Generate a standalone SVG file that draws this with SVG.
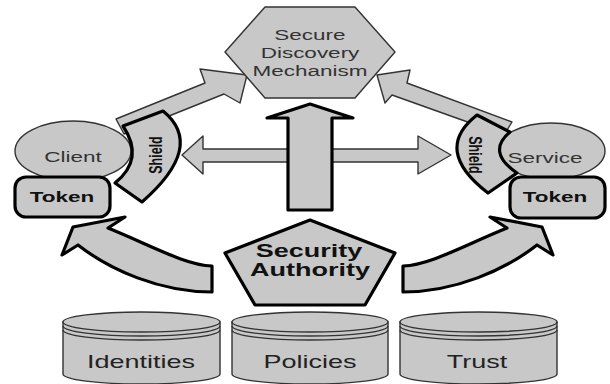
<svg xmlns="http://www.w3.org/2000/svg" width="610" height="384" viewBox="0 0 610 384">
  <style>
    .thin { fill: #c8c8c8; stroke: #333; stroke-width: 1.4; stroke-linejoin: round; }
    .thick { fill: #c8c8c8; stroke: #000; stroke-width: 3.2; stroke-linejoin: round; }
    .rim { fill: none; stroke: #333; stroke-width: 1.4; }
    text { font-family: "Liberation Sans", Arial, sans-serif; text-anchor: middle; }
    .lbl { font-size: 15px; fill: #333; }
    .bold { font-size: 15px; font-weight: bold; fill: #111; }
    .shield { font-size: 12.5px; font-weight: bold; fill: #111; }
    .auth { font-size: 18px; font-weight: bold; fill: #111; }
    .store { font-size: 18px; fill: #222; }
  </style>
  <defs>
    <!-- bent arrow from the authority toward the client token; mirrored for the service side -->
    <path id="bentArrow" d="M212,266 C185,265 150,245 108,228 L125,217 L73,227 L62,255 L78,245 C110,270 160,292 212,292 Z"/>
  </defs>

  <g id="connectors">
    <!-- client to discovery -->
    <path class="thin" d="M116,119 L205,83 L200,69 L247,75 L240,103 L224,94 L124,134 Z"/>
    <!-- service to discovery -->
    <path class="thin" d="M512,122 L407,83 L410,70 L377,75 L385,103 L392,95 L504,135 Z"/>
    <!-- client / service exchange -->
    <path class="thin" d="M203,149 L203,136 L182,155 L203,174 L203,162 L418,162 L418,174 L451,155 L418,136 L418,149 Z"/>
    <!-- authority publishes to discovery -->
    <path class="thick" d="M288,210 L288,118 L267,118 L310,104 L353,118 L332,118 L332,210 Z"/>
    <!-- authority issues tokens -->
    <use href="#bentArrow" class="thick"/>
    <use href="#bentArrow" class="thick" transform="translate(615,0) scale(-1,1)"/>
  </g>

  <g id="discovery">
    <polygon class="thin" points="265,7 355,7 395,52 355,98 265,98 225,52"/>
    <text class="lbl" transform="translate(310,40) scale(1.5,1)">Secure</text>
    <text class="lbl" transform="translate(310,58) scale(1.5,1)">Discovery</text>
    <text class="lbl" transform="translate(310,76) scale(1.5,1)">Mechanism</text>
  </g>

  <g id="client">
    <ellipse class="thin" cx="73" cy="151" rx="58" ry="30"/>
    <text class="lbl" transform="translate(73,162) scale(1.5,1)">Client</text>
  </g>

  <g id="client-shield">
    <path class="thick" d="M123,126 L163,111 Q206,146 142,202 L115,183 Q145,159 123,126 Z"/>
    <text class="shield" transform="translate(155,155) scale(1.5,1) rotate(-90)" y="4.5">Shield</text>
  </g>

  <g id="client-token">
    <rect class="thick" x="15" y="177" width="95" height="40" rx="11"/>
    <text class="bold" transform="translate(62,202) scale(1.5,1)">Token</text>
  </g>

  <g id="service">
    <ellipse class="thin" cx="551" cy="151" rx="54" ry="28"/>
    <text class="lbl" transform="translate(545,163) scale(1.5,1)">Service</text>
  </g>

  <g id="service-shield">
    <path class="thick" d="M510,132 L477,115 Q432,150 488,193 L517,173 Q486,152 510,132 Z"/>
    <text class="shield" transform="translate(476,155) scale(1.5,1) rotate(90)" y="4.5">Shield</text>
  </g>

  <g id="service-token">
    <rect class="thick" x="510" y="177" width="95" height="41" rx="11"/>
    <text class="bold" transform="translate(555,202) scale(1.5,1)">Token</text>
  </g>

  <g id="authority">
    <polygon class="thick" points="310,220 395,253 365,305 255,305 225,253"/>
    <text class="auth" transform="translate(309,257) scale(1.5,1)">Security</text>
    <text class="auth" transform="translate(310,276) scale(1.5,1)">Authority</text>
  </g>

  <g id="identities">
    <path class="thin" d="M63,322 L63,374 A78.5,10 0 0 0 220,374 L220,322 Z"/>
    <ellipse class="thin" cx="141.5" cy="322" rx="78.5" ry="10"/>
    <path class="rim" d="M63,326 A78.5,10 0 0 0 220,326 M63,330 A78.5,10 0 0 0 220,330"/>
    <text class="store" transform="translate(141,368) scale(1.5,1)">Identities</text>
  </g>

  <g id="policies">
    <path class="thin" d="M232,322 L232,374 A78,10 0 0 0 388,374 L388,322 Z"/>
    <ellipse class="thin" cx="310" cy="322" rx="78" ry="10"/>
    <path class="rim" d="M232,326 A78,10 0 0 0 388,326 M232,330 A78,10 0 0 0 388,330"/>
    <text class="store" transform="translate(310,368) scale(1.5,1)">Policies</text>
  </g>

  <g id="trust">
    <path class="thin" d="M400,322 L400,374 A78.5,10 0 0 0 557,374 L557,322 Z"/>
    <ellipse class="thin" cx="478.5" cy="322" rx="78.5" ry="10"/>
    <path class="rim" d="M400,326 A78.5,10 0 0 0 557,326 M400,330 A78.5,10 0 0 0 557,330"/>
    <text class="store" transform="translate(477,368) scale(1.5,1)">Trust</text>
  </g>
</svg>
